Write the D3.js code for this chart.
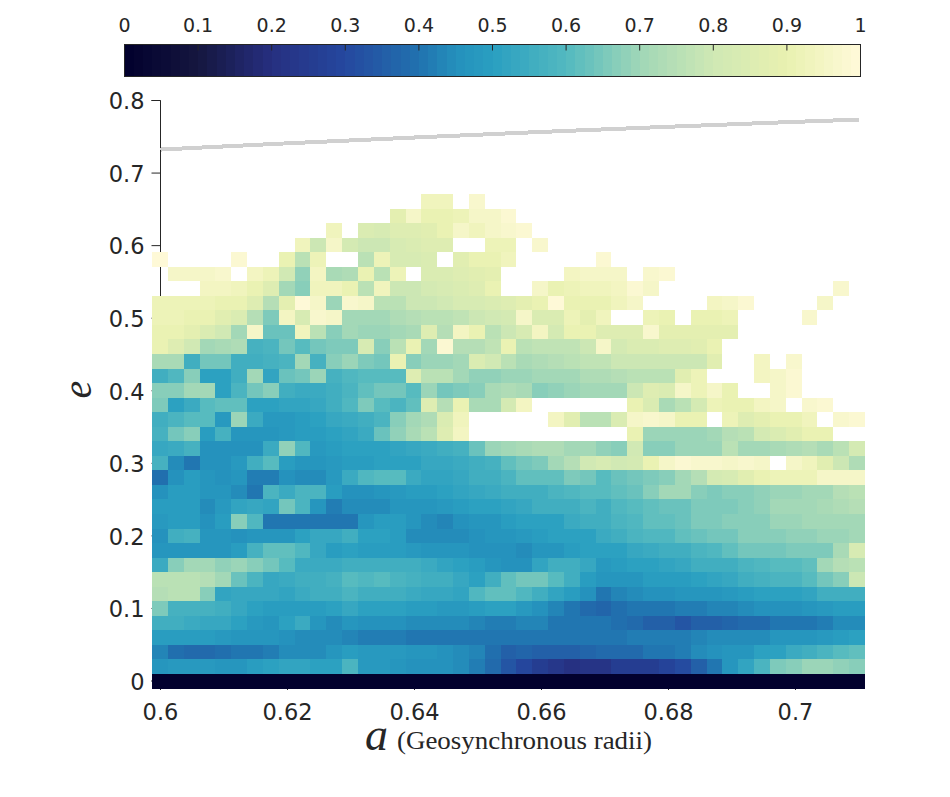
<!DOCTYPE html>
<meta charset="utf-8">
<head>
<script src="https://d3js.org/d3.v7.min.js"></script>
<style>
  body { margin: 0; background: #fff; }
  text { fill: #262626; font-family: "DejaVu Sans", sans-serif; }
</style>
</head>
<body>
<script type="text/javascript">

// data. a goes left to right, e goes bottom to top, _ is an empty cell
const _ = null;
const aValues = d3.range(45).map(function(i){ return +(0.6 + i*0.0025).toFixed(4); });
const eValues = d3.range(34).map(function(i){ return +(i*0.02).toFixed(2); });

const cells = [
[.01,.01,.01,.01,.01, .01,.01,.01,.01,.01, .01,.01,.01,.01,.01, .01,.01,.01,.01,.01, .01,.01,.01,.01,.01, .01,.01,.01,.01,.01, .01,.01,.01,.01,.01, .01,.01,.01,.01,.01, .01,.01,.01,.01,.01],
[.47,.48,.48,.48,.47, .47,.49,.51,.52,.52, .51,.51,.58,.48,.48, .47,.46,.46,.46,.44, .42,.38,.33,.29,.26, .23,.20,.22,.22,.25, .25,.26,.28,.31,.36, .41,.47,.52,.58,.65, .67,.69,.69,.68,.67],
[.43,.39,.38,.38,.39, .41,.41,.42,.44,.44, .44,.47,.49,.48,.48, .48,.47,.47,.46,.44, .43,.39,.36,.37,.36, .36,.36,.37,.38,.38, .38,.40,.41,.42,.44, .46,.47,.47,.50,.50, .54,.55,.58,.60,.62],
[.49,.49,.49,.49,.48, .47,.47,.47,.45,.44, .44,.44,.43,.42,.42, .42,.41,.41,.40,.40, .40,.41,.41,.41,.41, .41,.41,.41,.41,.41, .42,.42,.42,.42,.43, .44,.44,.44,.44,.47, .47,.47,.48,.49,.50],
[.55,.55,.54,.53,.53, .50,.48,.47,.50,.54, .47,.44,.47,.45,.45, .45,.44,.44,.44,.44, .43,.42,.42,.43,.43, .41,.41,.40,.40,.39, .38,.36,.36,.33,.35, .36,.37,.38,.38,.40, .41,.41,.42,.44,.44],
[.65,.57,.57,.57,.56, .53,.51,.49,.49,.49, .49,.50,.53,.51,.50, .50,.49,.49,.48,.48, .49,.50,.50,.48,.46, .43,.40,.38,.37,.39, .41,.41,.41,.42,.42, .43,.43,.44,.45,.45, .45,.47,.48,.49,.49],
[.74,.75,.75,.67,.52, .53,.53,.53,.52,.54, .55,.55,.58,.56,.56, .56,.54,.53,.53,.52, .59,.62,.62,.59,.56, .52,.49,.45,.41,.43, .44,.45,.45,.47,.47, .47,.48,.49,.50,.50, .51,.52,.55,.56,.56],
[.75,.75,.75,.74,.71, .63,.58,.53,.54,.55, .56,.57,.60,.59,.60, .58,.57,.56,.55,.53, .51,.56,.62,.64,.64, .60,.56,.49,.47,.47, .47,.49,.49,.49,.51, .52,.53,.55,.57,.58, .58,.61,.64,.67,.79],
[.54,.67,.70,.71,.68, .69,.67,.64,.60,.54, .54,.54,.55,.55,.55, .55,.55,.54,.52,.50, .49,.47,.45,.45,.52, .56,.56,.53,.48,.49, .50,.51,.52,.53,.55, .55,.56,.58,.59,.60, .60,.62,.70,.74,.75],
[.47,.47,.47,.47,.47, .49,.57,.62,.62,.59, .53,.49,.51,.49,.49, .49,.48,.47,.47,.47, .46,.45,.45,.44,.47, .47,.49,.50,.50,.51, .53,.54,.55,.55,.58, .59,.62,.64,.64,.64, .65,.65,.65,.72,.83],
[.45,.55,.57,.47,.47, .46,.47,.47,.47,.50, .53,.53,.55,.50,.50, .49,.44,.44,.44,.44, .45,.47,.47,.48,.49, .50,.50,.51,.54,.56, .58,.59,.59,.62,.63, .64,.64,.67,.67,.67, .68,.68,.69,.69,.71],
[.48,.49,.49,.45,.49, .67,.59,.41,.41,.41, .41,.41,.41,.47,.49, .49,.47,.44,.43,.46, .47,.47,.49,.50,.51, .50,.54,.55,.55,.58, .59,.62,.62,.63,.65, .66,.67,.67,.67,.69, .69,.70,.70,.71,.71],
[.49,.49,.49,.44,.48, .52,.53,.52,.64,.58, .47,.42,.44,.44,.44, .47,.47,.47,.48,.49, .50,.51,.52,.53,.55, .55,.55,.58,.56,.59, .61,.62,.63,.63,.65, .65,.66,.67,.68,.71, .71,.71,.72,.73,.74],
[.46,.49,.49,.47,.47, .44,.41,.58,.54,.58, .58,.49,.46,.46,.47, .48,.49,.49,.50,.52, .53,.54,.55,.56,.56, .58,.59,.60,.60,.62, .63,.67,.70,.71,.67, .65,.67,.67,.68,.69, .69,.71,.71,.74,.76],
[.39,.46,.49,.47,.46, .47,.42,.42,.45,.44, .44,.48,.54,.59,.60, .60,.54,.52,.52,.53, .55,.56,.58,.62,.62, .62,.65,.64,.60,.63, .64,.65,.67,.71,.74, .82,.83,.87,.90,.92, .92,.92,.95,.95,.96],
[.57,.44,.41,.46,.46, .48,.56,.60,.49,.47, .47,.48,.49,.49,.50, .51,.51,.53,.53,.54, .56,.57,.62,.64,.66, .71,.74,.80,.83,.80, .82,.91,.96,.98,.97, .97,.96,.97,.96,_, .96,.93,.87,.79,.73],
[.53,.54,.57,.45,.45, .46,.46,.54,.68,.59, .48,.49,.50,.51,.51, .52,.53,.54,.56,.57, .63,.69,.71,.72,.73, .73,.71,.70,.68,.67, .80,.67,.67,.69,.69, .69,.76,.71,.71,.72, .73,.74,.72,.75,.82],
[.57,.64,.67,.49,.57, .47,.47,.47,.48,.49, .49,.51,.52,.54,.63, .68,.72,.75,.86,.94, _,_,_,_,_, _,_,_,_,_, .91,.69,.69,.69,.69, .70,.74,.76,.82,.84, .87,.90,.90,_,_],
[.55,.58,.60,.60,.48, .69,.54,.48,.48,.49, .50,.53,.54,.55,.58, .67,.71,.73,.84,.93, _,_,_,_,_, .94,.87,.75,.75,.84, .95,.97,.95,.90,.90, _,.92,.86,.88,.91, .91,.93,_,.97,.98],
[.65,.50,.54,.60,.62, .62,.50,.50,.52,.52, .53,.55,.59,.65,.60, .58,.62,.86,.74,.90, .72,.72,.82,.94,_, _,_,_,_,_, .91,.84,.72,.76,.82, .92,.91,.91,.94,.95, _,.97,.98,_,_],
[.67,.67,.70,.70,.50, .58,.64,.67,.55,.54, .54,.56,.58,.62,.64, .64,.60,.69,.64,.65, .67,.72,.73,.72,.67, .68,.69,.71,.71,.71, .79,.86,.84,.96,.92, .95,.91,_,_,.96, .98,_,_,_,_],
[.56,.59,.67,.50,.50, .55,.71,.52,.63,.64, .69,.57,.59,.60,.60, .61,.86,.76,.76,.71, .68,.68,.69,.69,.70, .71,.71,.73,.73,.74, .75,.75,.75,.87,.92, _,_,_,.94,.96, .98,_,_,_,_],
[.72,.72,.56,.64,.64, .55,.56,.57,.58,.71, .57,.67,.69,.65,.64, .90,.67,.69,.69,.71, .84,.80,.76,.72,.73, .74,.76,.77,.77,.79, .79,.79,.79,.79,.79, .87,_,_,.94,_, .97,_,_,_,_],
[.91,.86,.80,.71,.72, .73,.57,.58,.64,.60, .64,.65,.65,.83,.67, .75,.90,.71,.98,.74, .74,.77,.90,.76,.77, .77,.77,.79,.96,.82, .84,.84,.86,.86,.87, .90,_,_,_,_, _,_,_,_,_],
[.90,.90,.88,.84,.80, .70,.95,.63,.63,.93, .75,.67,.70,.69,.69, .71,.72,.86,.74,.94, .91,.76,.79,.83,.94, .82,.90,.91,.86,.86, .86,.97,.88,.88,.88, .88,.88,_,_,_, _,_,_,_,_],
[.92,.92,.91,.91,.87, .84,.74,.66,.94,.83, .97,.95,.70,.71,.71, .73,.74,.75,.76,.77, .79,.80,.82,.96,.84, .84,.92,.88,.93,_, _,.92,.91,_,.90, .91,.92,_,_,_, _,.97,_,_,_],
[.92,.92,.92,.92,.91, .91,.86,.74,.88,.99, .95,.69,.97,.96,.76, .76,.79,.79,.80,.83, .83,.84,.86,.88,.90, .99,.91,.91,.91,.93, .96,_,_,_,_, .94,.95,.98,_,_, _,_,.96,_,_],
[_,_,_,.94,.94, .93,.91,.86,.71,.67, .93,.93,.90,.76,.93, .79,.79,.82,.83,.84, .86,.90,_,_,.96, .91,.92,.93,.93,.94, .98,.96,_,_,_, _,_,_,_,_, _,_,_,.97,_],
[_,.96,.96,.95,.97, _,.94,.92,.80,.68, .94,.72,.73,.91,.76, .92,_,.84,.84,.86, .87,.88,_,_,_, _,.94,.95,.95,.96, _,.97,.98,_,_, _,_,_,_,_, _,_,_,_,_],
[.99,_,_,_,_, .98,_,_,.90,.76, .92,_,_,.76,.92, .83,.83,.84,_,.87, .90,.91,.93,_,_, _,_,_,.98,_, _,_,_,_,_, _,_,_,_,_, _,_,_,_,_],
[_,_,_,_,_, _,_,_,_,.93, .79,.96,.82,.79,.79, .83,.84,.86,.86,_, _,.92,.92,_,.97, _,_,_,_,_, _,_,_,_,_, _,_,_,_,_, _,_,_,_,_],
[_,_,_,_,_, _,_,_,_,_, _,.93,_,.84,.83, .86,.86,.87,.90,.96, .93,.95,.97,.98,_, _,_,_,_,_, _,_,_,_,_, _,_,_,_,_, _,_,_,_,_],
[_,_,_,_,_, _,_,_,_,_, _,_,_,_,_, .88,.96,.90,.91,.92, .95,.96,.98,_,_, _,_,_,_,_, _,_,_,_,_, _,_,_,_,_, _,_,_,_,_],
[_,_,_,_,_, _,_,_,_,_, _,_,_,_,_, _,_,.93,.93,_, .97,_,_,_,_, _,_,_,_,_, _,_,_,_,_, _,_,_,_,_, _,_,_,_,_]
];

// grey curve
const lineA = [0.6, 0.62, 0.64, 0.66, 0.68, 0.7, 0.71];
const lineE = [0.7324, 0.741, 0.749, 0.7567, 0.7638, 0.7706, 0.7737];

const xTicks = [0.6, 0.62, 0.64, 0.66, 0.68, 0.7];
const yTicks = [0, 0.1, 0.2, 0.3, 0.4, 0.5, 0.6, 0.7, 0.8];
const barTicks = [0, 0.1, 0.2, 0.3, 0.4, 0.5, 0.6, 0.7, 0.8, 0.9, 1];

// colormap anchors
const mapStops = [0, 0.1, 0.2, 0.3, 0.4, 0.45, 0.5, 0.6, 0.7, 0.8, 0.9, 1];
const mapColors = ["#01002d", "#15163f", "#262f80", "#25489f", "#2172af", "#2490bc", "#2a9fc1", "#52b9c0", "#a0d7b7", "#cfe8b4", "#e9f1b0", "#fff9da"];

var w = 950, h = 797;
var svg = d3.select("body").append("svg").attr("width", w).attr("height", h).style("display", "block");

var xScale = d3.scaleLinear().domain([0.6, 0.71]).range([160.5, 859]);
var yScale = d3.scaleLinear().domain([0, 0.8]).range([681, 100.5]);
var xBand = d3.scaleBand().domain(aValues).range([152, 865]);
var yBand = d3.scaleBand().domain(eValues).range([688.5, 194]);

// colour goes in steps like the matlab colormap
var smooth = d3.scaleLinear().domain(mapStops).range(mapColors);
var nLevels = 80;
function color(v){
  return smooth((Math.min(Math.floor(v*nLevels), nLevels-1) + 0.5)/nLevels);
}

// axes first, the cells sit over them
var xAxis = d3.axisBottom(xScale).tickValues(xTicks).tickSize(9).tickPadding(14.5).offset(0).tickFormat(d3.format(""));
var yAxis = d3.axisLeft(yScale).tickValues(yTicks).tickSize(9).tickPadding(7).offset(0).tickFormat(d3.format(""));

var gx = svg.append("g").attr("transform", "translate(0,681)").call(xAxis);
var gy = svg.append("g").attr("transform", "translate(160.5,0)").call(yAxis);
gx.select(".domain").remove();
svg.selectAll("g.tick line").attr("stroke", "#262626");
gy.select(".domain").attr("stroke", "#262626");
svg.selectAll("g.tick text").attr("font-size", 22.5).attr("fill", "#262626").attr("font-family", '"DejaVu Sans"');
gy.selectAll("g.tick text").attr("dy", "0.39em");

// heat map
var flat = [];
cells.forEach(function(row, i){
  row.forEach(function(v, j){
    if (v !== _) flat.push({a: aValues[j], e: eValues[i], v: v});
  });
});

svg.append("g").selectAll("rect")
  .data(flat)
  .enter()
  .append("rect")
  .attr("x", function(d){ return xBand(d.a); })
  .attr("y", function(d){ return yBand(d.e); })
  .attr("width", xBand.bandwidth())
  .attr("height", yBand.bandwidth())
  .attr("fill", function(d){ return color(d.v); })
  .attr("shape-rendering", "crispEdges");

// grey line
var line = d3.line()
  .x(function(d){ return xScale(d); })
  .y(function(d, i){ return yScale(lineE[i]); });

svg.append("path")
  .attr("d", line(lineA))
  .attr("fill", "none")
  .attr("stroke", "#d0d0d0")
  .attr("stroke-width", 4)
  .attr("shape-rendering", "crispEdges");

// colorbar
var barX = d3.scaleLinear().domain([0, 1]).range([124.5, 860.5]);
var barTop = 44.5, barH = 32;

svg.append("g").selectAll("rect")
  .data(d3.range(nLevels))
  .enter()
  .append("rect")
  .attr("x", function(d){ return barX(d/nLevels); })
  .attr("y", barTop)
  .attr("width", barX(1/nLevels) - barX(0) + 0.5)
  .attr("height", barH)
  .attr("fill", function(d){ return color((d + 0.5)/nLevels); })
  .attr("shape-rendering", "crispEdges");

svg.append("rect")
  .attr("x", barX(0))
  .attr("y", barTop)
  .attr("width", barX(1) - barX(0))
  .attr("height", barH)
  .attr("fill", "none")
  .attr("stroke", "#262626");

var barAxis = d3.axisTop(barX).tickValues(barTicks).tickSize(0).tickPadding(13).offset(0).tickFormat(d3.format(""));
var gb = svg.append("g").attr("transform", "translate(0," + barTop + ")").call(barAxis);
gb.select(".domain").remove();
gb.selectAll("text").attr("font-size", 19).attr("fill", "#262626").attr("font-family", '"DejaVu Sans"');

svg.append("g").selectAll("line")
  .data(barTicks.slice(1, -1))
  .enter()
  .append("line")
  .attr("x1", function(d){ return barX(d); })
  .attr("x2", function(d){ return barX(d); })
  .attr("y1", barTop)
  .attr("y2", barTop + 6)
  .attr("stroke", "#262626");

// axis titles
svg.append("text")
  .attr("x", 365).attr("y", 750)
  .style("font-family", '"Liberation Serif"').style("font-style", "italic").attr("font-size", 46)
  .text("a");

svg.append("text")
  .attr("x", 397).attr("y", 749)
  .style("font-family", '"Liberation Serif"').attr("font-size", 25)
  .attr("textLength", 255).attr("lengthAdjust", "spacingAndGlyphs")
  .text("(Geosynchronous radii)");

svg.append("text")
  .attr("transform", "translate(91,398.5) rotate(-90)")
  .style("font-family", '"Liberation Serif"').style("font-style", "italic").attr("font-size", 40)
  .text("e");

</script>
</body>
